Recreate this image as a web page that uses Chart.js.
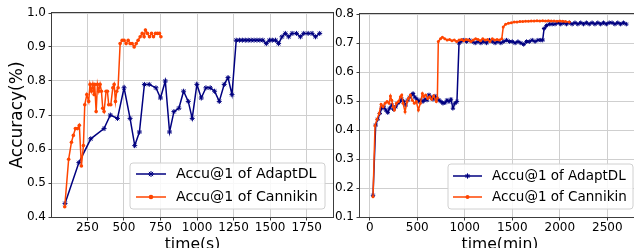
<!DOCTYPE html>
<html><head><meta charset="utf-8">
<script src="https://cdn.jsdelivr.net/npm/chart.js@4/dist/chart.umd.min.js"></script>
<style>
html,body{margin:0;padding:0;background:#fff;width:634px;height:248px;overflow:hidden;position:relative}
canvas{position:absolute;top:0}
#c1{left:0}
#c2{left:320px}
</style></head><body>
<canvas id="c1" width="345" height="260"></canvas>
<canvas id="c2" width="330" height="260"></canvas>
<script>
// ---------- data ----------
const seriesNames = ['Accu@1 of AdaptDL', 'Accu@1 of Cannikin'];
const seriesColors = ['#000080', '#ff4500'];

// Left panel: time (s)
const leftAdaptTime = [97,192,273,364,407,456,501,542,574,606,640,673,719,750,783,812,842,876,908,940,967,999,1029,1061,1090,1120,1152,1186,1212,1239,1268,1290,1310,1330,1350,1370,1390,1410,1430,1450,1474,1495,1515,1537,1558,1581,1604,1627,1650,1680,1707,1730,1760,1787,1810,1839];
const leftAdaptAcc = [0.44,0.56,0.63,0.66,0.70,0.69,0.78,0.69,0.61,0.65,0.79,0.79,0.78,0.75,0.80,0.65,0.71,0.72,0.77,0.74,0.69,0.79,0.75,0.78,0.78,0.77,0.74,0.79,0.81,0.76,0.92,0.92,0.92,0.92,0.92,0.92,0.92,0.92,0.92,0.92,0.91,0.92,0.92,0.92,0.91,0.93,0.94,0.93,0.94,0.94,0.93,0.94,0.94,0.94,0.93,0.94];
const leftCannTime = [95,122,141,154,168,182,195,209,223,232,246,259,268,278,287,296,300,310,319,328,337,346,355,364,378,387,396,410,424,433,442,451,460,474,488,501,515,529,542,556,570,584,597,611,625,638,647,661,675,689,702,716,730,743,753];
const leftCannAcc = [0.43,0.57,0.62,0.64,0.66,0.66,0.67,0.55,0.61,0.73,0.76,0.74,0.79,0.77,0.79,0.76,0.79,0.71,0.79,0.77,0.79,0.77,0.72,0.71,0.77,0.77,0.73,0.73,0.78,0.79,0.74,0.77,0.78,0.91,0.92,0.92,0.91,0.92,0.91,0.91,0.90,0.91,0.92,0.93,0.94,0.93,0.95,0.94,0.93,0.94,0.93,0.94,0.94,0.94,0.93];
const leftXTicks = [250,500,750,1000,1250,1500,1750];
const leftXTickLabels = ['250','500','750','1000','1250','1500','1750'];
const leftYTicks = [0.4,0.5,0.6,0.7,0.8,0.9,1.0];
const leftYTickLabels = ['0.4','0.5','0.6','0.7','0.8','0.9','1.0'];

// Right panel: time (min)
const rightAdaptTime = [35,63,84,106,127,148,169,190,211,232,253,274,295,316,337,358,379,400,421,442,456,477,498,519,540,561,582,603,624,645,666,687,708,729,750,771,792,813,834,855,876,897,918,940,960,990,1020,1050,1080,1110,1140,1170,1200,1230,1260,1290,1320,1350,1380,1410,1440,1470,1500,1530,1560,1590,1620,1650,1680,1710,1740,1770,1800,1820,1835,1860,1890,1920,1950,1980,2010,2040,2070,2100,2130,2160,2190,2220,2250,2280,2310,2340,2370,2400,2430,2460,2490,2520,2550,2580,2610,2640,2670,2700];
const rightAdaptAcc = [0.175,0.417,0.437,0.457,0.475,0.48,0.469,0.46,0.475,0.486,0.471,0.48,0.492,0.498,0.506,0.498,0.486,0.503,0.513,0.521,0.526,0.513,0.506,0.498,0.503,0.498,0.506,0.503,0.521,0.513,0.506,0.517,0.509,0.503,0.498,0.492,0.494,0.503,0.498,0.506,0.475,0.492,0.498,0.70,0.705,0.71,0.705,0.71,0.705,0.70,0.705,0.70,0.705,0.70,0.71,0.705,0.70,0.705,0.70,0.705,0.71,0.705,0.705,0.70,0.705,0.70,0.695,0.705,0.705,0.71,0.705,0.71,0.71,0.71,0.75,0.76,0.765,0.765,0.765,0.77,0.765,0.77,0.765,0.77,0.765,0.77,0.765,0.77,0.765,0.77,0.765,0.77,0.765,0.77,0.765,0.77,0.765,0.77,0.77,0.765,0.77,0.765,0.77,0.765];
const rightCannTime = [35,56,77,99,120,141,162,183,204,218,232,246,260,281,302,323,337,351,372,393,407,428,449,470,491,512,533,554,568,589,610,631,652,673,701,712,722,745,765,790,815,840,865,890,915,940,965,990,1015,1040,1065,1090,1115,1140,1165,1190,1215,1240,1265,1290,1315,1340,1365,1390,1405,1430,1460,1490,1520,1550,1580,1610,1640,1670,1700,1730,1760,1790,1820,1850,1880,1910,1940,1970,2000,2030,2060,2100];
const rightCannAcc = [0.17,0.415,0.437,0.457,0.489,0.48,0.492,0.498,0.492,0.517,0.503,0.48,0.469,0.492,0.498,0.515,0.521,0.492,0.463,0.498,0.509,0.521,0.503,0.492,0.498,0.469,0.492,0.526,0.515,0.521,0.509,0.515,0.506,0.518,0.498,0.51,0.705,0.715,0.72,0.715,0.71,0.712,0.708,0.71,0.705,0.71,0.712,0.708,0.712,0.71,0.705,0.71,0.715,0.712,0.708,0.715,0.71,0.712,0.705,0.715,0.71,0.712,0.71,0.715,0.755,0.765,0.768,0.77,0.772,0.772,0.774,0.774,0.775,0.775,0.776,0.776,0.777,0.776,0.777,0.776,0.777,0.776,0.776,0.775,0.776,0.775,0.774,0.772];
const rightXTicks = [0,500,1000,1500,2000,2500];
const rightXTickLabels = ['0','500','1000','1500','2000','2500'];
const rightYTicks = [0.1,0.2,0.3,0.4,0.5,0.6,0.7,0.8];
const rightYTickLabels = ['0.1','0.2','0.3','0.4','0.5','0.6','0.7','0.8'];

// ---------- helpers ----------
Chart.defaults.font.family = "'DejaVu Sans', sans-serif";
Chart.defaults.color = '#000';
const zip = (xs, ys) => xs.map((x, i) => ({x, y: ys[i]}));

const framePlugin = {
  id: 'frame',
  afterDatasetsDraw(chart) {
    const {ctx, chartArea: a} = chart;
    ctx.save();
    ctx.strokeStyle = '#3c3c3c';
    ctx.lineWidth = 1;
    const l = Math.floor(a.left) - 0.5, t = Math.floor(a.top) - 0.5;
    const r = Math.floor(a.right) + 0.5, b = Math.floor(a.bottom) + 0.5;
    ctx.strokeRect(l, t, r - l, b - t);
    ctx.restore();
  }
};

const legendPlugin = {
  id: 'boxLegend',
  afterDraw(chart, args, o) {
    const {ctx, chartArea: a} = chart;
    const x0 = a.right - o.right - o.width, y0 = a.bottom - o.bottom - o.height;
    ctx.save();
    ctx.beginPath();
    const rr = 3;
    ctx.moveTo(x0 + rr, y0);
    ctx.arcTo(x0 + o.width, y0, x0 + o.width, y0 + o.height, rr);
    ctx.arcTo(x0 + o.width, y0 + o.height, x0, y0 + o.height, rr);
    ctx.arcTo(x0, y0 + o.height, x0, y0, rr);
    ctx.arcTo(x0, y0, x0 + o.width, y0, rr);
    ctx.closePath();
    ctx.fillStyle = 'rgba(255,255,255,0.85)';
    ctx.fill();
    ctx.strokeStyle = '#d0d0d0';
    ctx.lineWidth = 1;
    ctx.stroke();
    chart.data.datasets.forEach((ds, i) => {
      const y = y0 + o.rows[i];
      ctx.strokeStyle = ds.borderColor;
      ctx.lineWidth = ds.borderWidth;
      ctx.beginPath();
      ctx.moveTo(x0 + o.h0, y);
      ctx.lineTo(x0 + o.h1, y);
      ctx.stroke();
      ctx.fillStyle = ds.pointBackgroundColor;
      ctx.strokeStyle = ds.pointBorderColor;
      ctx.lineWidth = ds.pointBorderWidth;
      Chart.helpers.drawPoint(ctx, {pointStyle: ds.pointStyle, radius: ds.pointRadius + 0.5, rotation: 0, borderWidth: ds.pointBorderWidth}, x0 + (o.h0 + o.h1) / 2, y);
      ctx.fillStyle = '#000';
      ctx.font = o.fontSize + "px 'DejaVu Sans', sans-serif";
      ctx.textBaseline = 'middle';
      ctx.textAlign = 'left';
      ctx.fillText(ds.label, x0 + o.tx, y);
    });
    ctx.restore();
  }
};

function makeDatasets(adaptT, adaptA, cannT, cannA, r1, r2) {
  return [
    {label: seriesNames[0], data: zip(adaptT, adaptA), borderColor: seriesColors[0], backgroundColor: seriesColors[0],
     borderWidth: 1.5, pointStyle: 'star', pointRadius: r1, pointBorderWidth: 1,
     pointBackgroundColor: seriesColors[0], pointBorderColor: seriesColors[0], order: 1},
    {label: seriesNames[1], data: zip(cannT, cannA), borderColor: seriesColors[1], backgroundColor: seriesColors[1],
     borderWidth: 1.5, pointStyle: 'circle', pointRadius: r2, pointBorderWidth: 0,
     pointBackgroundColor: seriesColors[1], pointBorderColor: seriesColors[1], order: 0}
  ];
}

function makeChart(id, cfg) {
  return new Chart(document.getElementById(id), {
    type: 'line',
    data: {datasets: cfg.datasets},
    plugins: [framePlugin, legendPlugin],
    options: {
      responsive: false, animation: false, devicePixelRatio: 1,
      layout: {padding: {top: cfg.padTop, right: cfg.padRight, left: 0, bottom: 0}},
      plugins: {legend: {display: false}, tooltip: {enabled: false}, boxLegend: cfg.legend},
      elements: {line: {tension: 0}},
      scales: {
        x: {
          type: 'linear', min: cfg.xMin, max: cfg.xMax,
          afterBuildTicks: (s) => { s.ticks = cfg.xTicks.map(v => ({value: v})); },
          afterFit: (s) => { s.height = cfg.xH; },
          ticks: {callback: (v, i) => cfg.xLabels[i], font: {size: 12}, padding: 0, maxRotation: 0, autoSkip: false, color: '#000'},
          grid: {color: '#cfcfcf', lineWidth: 1, tickLength: 3.5, tickColor: '#3c3c3c', drawTicks: true},
          border: {display: false},
          title: {display: true, text: cfg.xTitle, font: {size: 15.6}, padding: {top: 0, bottom: 5.5}, color: '#000'}
        },
        y: {
          type: 'linear', min: cfg.yMin, max: cfg.yMax,
          afterBuildTicks: (s) => { s.ticks = cfg.yTicks.map(v => ({value: v})); },
          afterFit: (s) => { s.width = cfg.yW; },
          ticks: {callback: (v, i) => cfg.yLabels[i], font: {size: 12}, padding: 2.5, color: '#000'},
          grid: {color: '#cfcfcf', lineWidth: 1, tickLength: 3.5, tickColor: '#3c3c3c', drawTicks: true},
          border: {display: false},
          title: {display: !!cfg.yTitle, text: cfg.yTitle || '', font: {size: 17}, padding: {top: 7, bottom: 0}, color: '#000'}
        }
      }
    }
  });
}

makeChart('c1', {
  datasets: makeDatasets(leftAdaptTime, leftAdaptAcc, leftCannTime, leftCannAcc, 2.5, 1.8),
  padTop: 13, padRight: 12, xH: 43, yW: 52,
  xMin: 8, xMax: 1930, yMin: 0.4, yMax: 1.0,
  xTicks: leftXTicks, xLabels: leftXTickLabels, yTicks: leftYTicks, yLabels: leftYTickLabels,
  xTitle: 'time(s)', yTitle: 'Accuracy(%)',
  legend: {right: 8, bottom: 8, width: 195, height: 46, rows: [11, 34], h0: 6, h1: 36, tx: 46, fontSize: 14.2}
});

makeChart('c2', {
  datasets: makeDatasets(rightAdaptTime, rightAdaptAcc, rightCannTime, rightCannAcc, 2.2, 1.5),
  padTop: 14, padRight: 10, xH: 43, yW: 40,
  xMin: -102, xMax: 2844, yMin: 0.1, yMax: 0.8,
  xTicks: rightXTicks, xLabels: rightXTickLabels, yTicks: rightYTicks, yLabels: rightYTickLabels,
  xTitle: 'time(min)', yTitle: null,
  legend: {right: 7, bottom: 8, width: 185, height: 45, rows: [12, 33], h0: 5, h1: 34, tx: 44, fontSize: 13.5}
});
</script>
</body></html>
